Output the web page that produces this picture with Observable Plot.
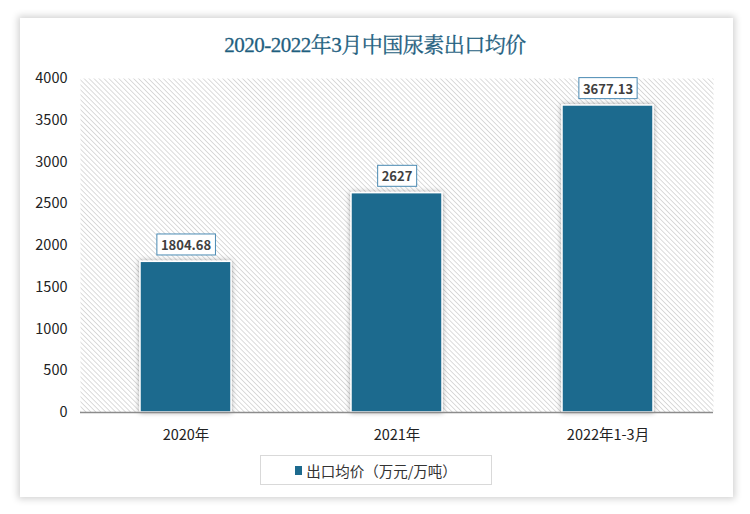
<!DOCTYPE html>
<html><head><meta charset="utf-8">
<script src="https://cdn.jsdelivr.net/npm/d3@7"></script>
<script src="https://cdn.jsdelivr.net/npm/@observablehq/plot@0.6"></script>
<style>
body{margin:0;background:#fff;width:750px;height:514px;overflow:hidden;position:relative;font-family:"Noto Sans CJK SC","Noto Sans",sans-serif;}
#card{position:absolute;left:20px;top:18px;width:713px;height:479px;background:#fff;box-shadow:0 0 7px 2px rgba(0,0,0,0.18);}
#title{position:absolute;left:0;width:750px;top:28px;text-align:center;font-family:"Liberation Serif","Noto Serif CJK SC","Noto Sans CJK SC",serif;font-size:21px;color:#1f5f7f;letter-spacing:-0.5px;-webkit-text-stroke:0.3px #1f5f7f;}
#chart{position:absolute;left:0;top:0;}
#legend{position:absolute;left:260px;top:455px;width:232px;height:30px;border:1px solid #d9d9d9;box-sizing:border-box;display:flex;align-items:center;justify-content:center;font-size:14.5px;color:#333;}
#legend .sw{display:inline-block;width:7px;height:9px;background:#1d6a8e;margin-right:4px;}
</style></head>
<body>
<div id="card"></div>
<div id="title">2020-2022年3月中国尿素出口均价</div>
<div id="chart"></div>
<div id="legend"><span class="sw"></span><span id="legtext"></span></div>
<script>
const categories = ["2020年", "2021年", "2022年1-3月"];
const values = [1804.68, 2627, 3677.13];
const labels = ["1804.68", "2627", "3677.13"];
const yTicks = [0, 500, 1000, 1500, 2000, 2500, 3000, 3500, 4000];
const seriesName = "出口均价（万元/万吨）";

document.getElementById("legtext").textContent = seriesName;
const data = categories.map((c, i) => ({cat: c, v: values[i], label: labels[i]}));

const barColor = "#1d6a8e";
const plot = Plot.plot({
  width: 750, height: 514,
  marginLeft: 80, marginRight: 37, marginTop: 78, marginBottom: 102,
  style: {background: "transparent", fontFamily: "'Noto Sans CJK SC','Noto Sans',sans-serif"},
  x: {domain: categories, paddingInner: 0.57, paddingOuter: 0.285, label: null, tickSize: 0, tickPadding: 17},
  y: {domain: [0, 4000], ticks: yTicks, tickFormat: d => String(d), label: null, tickSize: 0, tickPadding: 13},
  marks: [
    Plot.frame({fill: "url(#hatch)", stroke: null}),
    Plot.barY(data, {x: "cat", y: "v", fill: barColor, stroke: "white", strokeWidth: 1.5, className: "bars"}),
    Plot.ruleY([0], {stroke: "#8c8c8c", strokeWidth: 1.5}),
    Plot.text(data, {x: "cat", y: "v", text: "label", dy: -16, fill: "#404040", fontWeight: "bold", fontSize: 13, className: "vlabels"})
  ]
});
document.getElementById("chart").appendChild(plot);

plot.querySelectorAll("[aria-label='y-axis tick label'] text").forEach(t => {t.setAttribute("font-size", "14.5"); t.setAttribute("fill", "#222");});
plot.querySelectorAll("[aria-label='x-axis tick label'] text").forEach(t => {t.setAttribute("font-size", "14.5"); t.setAttribute("fill", "#222");});

const ns = "http://www.w3.org/2000/svg";
const defs = document.createElementNS(ns, "defs");
defs.innerHTML = `<pattern id="hatch" patternUnits="userSpaceOnUse" width="3.5" height="3.5" patternTransform="rotate(-45)">
<rect width="3.5" height="3.5" fill="#ffffff"/><line x1="0" y1="0" x2="0" y2="3.5" stroke="#cccccc" stroke-width="1.4"/></pattern>
<filter id="shadow" x="-20%" y="-20%" width="140%" height="140%"><feDropShadow dx="0" dy="0" stdDeviation="2.5" flood-color="#000" flood-opacity="0.35"/></filter>`;
plot.insertBefore(defs, plot.firstChild);
const bars = plot.querySelector(".bars");
if (bars) bars.setAttribute("filter", "url(#shadow)");

const lg = plot.querySelector(".vlabels");
if (lg) {
  lg.querySelectorAll("text").forEach(t => {
    const b = t.getBBox();
    const r = document.createElementNS(ns, "rect");
    r.setAttribute("x", b.x - 4); r.setAttribute("y", b.y - 1);
    r.setAttribute("width", b.width + 8); r.setAttribute("height", b.height + 2);
    r.setAttribute("fill", "white"); r.setAttribute("stroke", "#4a8ab3"); r.setAttribute("stroke-width", "1");
    const tr = t.getAttribute("transform"); if (tr) r.setAttribute("transform", tr);
    t.parentNode.insertBefore(r, t);
  });
}
</script>
</body></html>
